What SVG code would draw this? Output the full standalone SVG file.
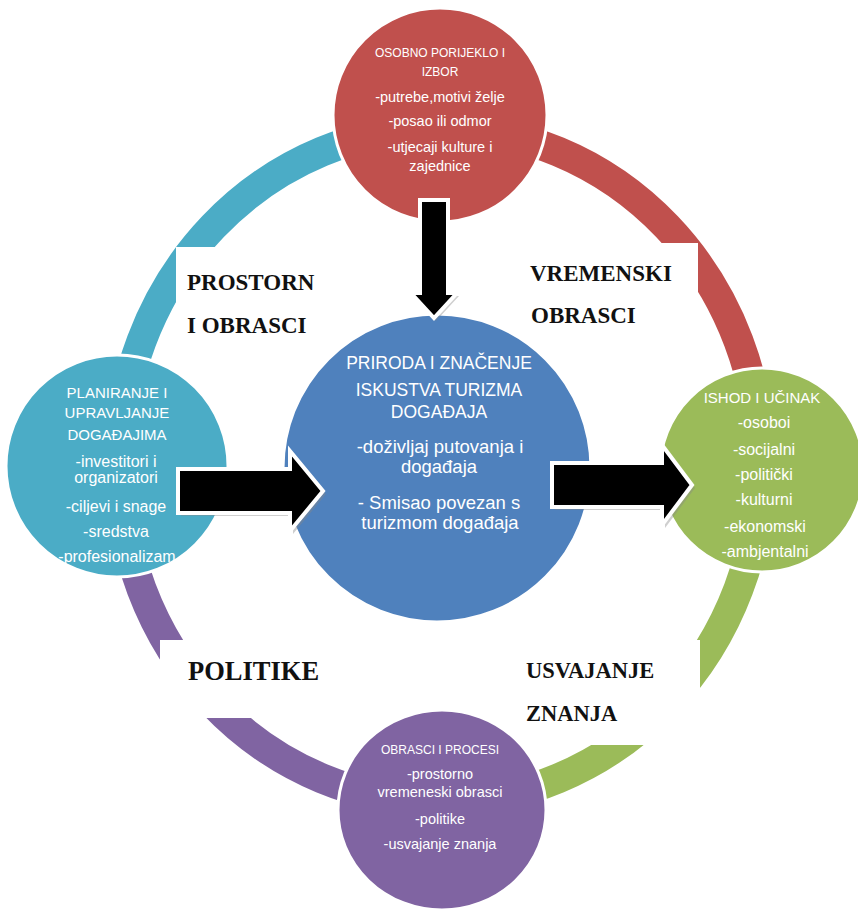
<svg xmlns="http://www.w3.org/2000/svg" width="858" height="911" viewBox="0 0 858 911">
<style>
.ring{fill:none;stroke-width:30}
.bg{fill:#fff}
.node{stroke:#fff;stroke-width:3}
.t{font-family:"Liberation Sans",Arial,sans-serif;fill:#fff;text-anchor:middle}
.lbl{font-family:"Liberation Serif","Times New Roman",serif;font-weight:bold;fill:#111}
.arrow{fill:#000;stroke:#fff;stroke-width:4;stroke-linejoin:miter}
.shadow{fill:#888;opacity:.4}
</style>
<rect width="858" height="911" fill="#fff"/>
<g id="cycle">
<path class="ring" stroke="#4bacc6" d="M119 465 A321 337 0 0 1 440 128"/>
<path class="ring" stroke="#c0504d" d="M440 128 A321 337 0 0 1 761 465"/>
<path class="ring" stroke="#9bbb59" d="M761 465 A321 337 0 0 1 440 802"/>
<path class="ring" stroke="#8064a2" d="M440 802 A321 337 0 0 1 119 465"/>
</g>
<g id="label-backgrounds">
<rect class="bg" x="176" y="247" width="170" height="108"/>
<rect class="bg" x="505" y="243" width="193" height="107"/>
<rect class="bg" x="160" y="640" width="185" height="78"/>
<rect class="bg" x="515" y="640" width="185" height="105"/>
</g>
<g id="node-top">
<circle class="node" cx="440" cy="115" r="107" fill="#c0504d"/>
<text class="t" x="440" font-size="12"><tspan x="440" y="57">OSOBNO PORIJEKLO I</tspan><tspan x="440" y="76">IZBOR</tspan></text>
<text class="t" font-size="14.5"><tspan x="440" y="102">-putrebe,motivi želje</tspan><tspan x="440" y="126">-posao ili odmor</tspan><tspan x="440" y="152">-utjecaji kulture i</tspan><tspan x="440" y="171">zajednice</tspan></text>
</g>
<g id="node-center">
<circle class="node" cx="437" cy="468" r="154" fill="#4f81bd"/>
<text class="t" font-size="17.5"><tspan x="439" y="369">PRIRODA I ZNAČENJE</tspan><tspan x="439" y="396">ISKUSTVA TURIZMA</tspan><tspan x="439" y="418">DOGAĐAJA</tspan></text>
<text class="t" font-size="18.5"><tspan x="440" y="453">-doživljaj putovanja i</tspan><tspan x="439" y="473">događaja</tspan><tspan x="439" y="509">- Smisao povezan s</tspan><tspan x="440" y="529">turizmom događaja</tspan></text>
</g>
<g id="node-left">
<circle class="node" cx="117" cy="466" r="111" fill="#4bacc6"/>
<text class="t" font-size="15"><tspan x="117" y="398">PLANIRANJE I</tspan><tspan x="117" y="418">UPRAVLJANJE</tspan><tspan x="117" y="440">DOGAĐAJIMA</tspan></text>
<text class="t" font-size="16"><tspan x="116" y="467">-investitori i</tspan><tspan x="116" y="483">organizatori</tspan><tspan x="116" y="512">-ciljevi i snage</tspan><tspan x="116" y="537">-sredstva</tspan><tspan x="117" y="562">-profesionalizam</tspan></text>
</g>
<g id="node-right">
<circle class="node" cx="762" cy="470" r="102" fill="#9bbb59"/>
<text class="t" font-size="15"><tspan x="762" y="403">ISHOD I UČINAK</tspan></text>
<text class="t" font-size="16"><tspan x="764" y="428">-osoboi</tspan><tspan x="764" y="455">-socijalni</tspan><tspan x="764" y="480">-politički</tspan><tspan x="764" y="505">-kulturni</tspan><tspan x="765" y="532">-ekonomski</tspan><tspan x="765" y="557">-ambjentalni</tspan></text>
</g>
<g id="node-bottom">
<ellipse class="node" cx="442" cy="810" rx="104" ry="100" fill="#8064a2"/>
<text class="t" font-size="12"><tspan x="440" y="754">OBRASCI I PROCESI</tspan></text>
<text class="t" font-size="14.5"><tspan x="440" y="779">-prostorno</tspan><tspan x="440" y="797">vremeneski obrasci</tspan><tspan x="440" y="824">-politike</tspan><tspan x="440" y="849">-usvajanje znanja</tspan></text>
</g>
<g id="connectors">
<polygon class="shadow" points="422,203 450,203 450,296 459,296 436,321 413,296 422,296"/>
<polygon class="arrow" points="420,200 448,200 448,293 457,293 434,318 411,293 420,293"/>
<polygon class="shadow" points="181,472 293,472 293,454 326,494 293,534 293,516 181,516"/>
<polygon class="arrow" points="178,469 290,469 290,451 323,491 290,531 290,513 178,513"/>
<polygon class="shadow" points="555,466 665,466 665,448 695,488 665,528 665,510 555,510"/>
<polygon class="arrow" points="552,463 662,463 662,445 692,485 662,525 662,507 552,507"/>
</g>
<g id="label-prostorni">
<text class="lbl" font-size="23"><tspan x="187" y="290">PROSTORN</tspan><tspan x="187" y="333">I OBRASCI</tspan></text>
</g>
<g id="label-vremenski">
<text class="lbl" font-size="23"><tspan x="530" y="281">VREMENSKI</tspan><tspan x="531" y="323">OBRASCI</tspan></text>
</g>
<g id="label-politike">
<text class="lbl" font-size="26.5"><tspan x="188" y="680">POLITIKE</tspan></text>
</g>
<g id="label-usvajanje">
<text class="lbl" font-size="22.5"><tspan x="526" y="678">USVAJANJE</tspan><tspan x="526" y="721">ZNANJA</tspan></text>
</g>
</svg>
